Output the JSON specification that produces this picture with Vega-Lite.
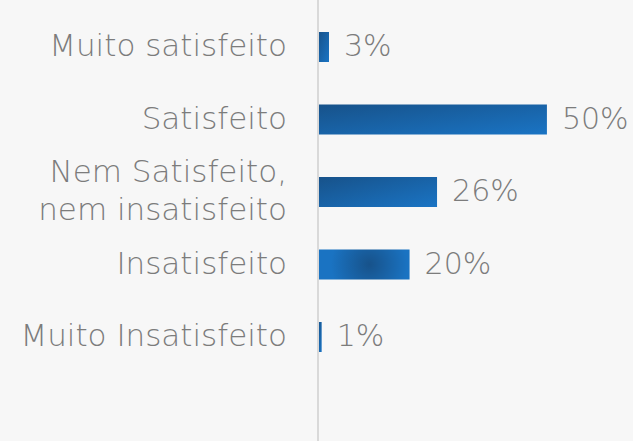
{
  "$schema": "https://vega.github.io/schema/vega-lite/v6.json",
  "autosize": "none",
  "padding": {"left": 318, "top": 0, "right": 0, "bottom": 0},
  "width": 315,
  "height": 441,
  "background": "#f7f7f7",
  "config": {"view": {"stroke": null}},
  "data": {"values": [
    {"cat": "Muito satisfeito\u00a0", "value": 2.4, "label": "3%"},
    {"cat": "Satisfeito", "value": 50, "label": "50%"},
    {"cat": "Nem Satisfeito,\nnem insatisfeito", "value": 26, "label": "26%"},
    {"cat": "Insatisfeito", "value": 20, "label": "20%"},
    {"cat": "Muito Insatisfeito", "value": 0.8, "label": "1%"}
  ]},
  "encoding": {
    "y": {"field": "cat", "type": "nominal", "sort": null, "axis": null,
          "scale": {"range": [10.75, 373.25], "paddingInner": 0.586, "paddingOuter": 0.293}}
  },
  "layer": [
    {
      "mark": {"type": "bar", "cornerRadius": 0},
      "encoding": {
        "x": {"field": "value", "type": "quantitative", "axis": null, "scale": {"domain": [0, 68.8], "nice": false}},
        "fill": {
          "condition": {"test": "datum.cat === 'Insatisfeito'", "value": {"gradient": "radial", "x1": 0.56, "y1": 0.5, "x2": 0.56, "y2": 0.5, "r1": 0, "r2": 0.42, "stops": [{"offset": 0, "color": "#17528a"}, {"offset": 1, "color": "#1a73c2"}]}},
          "value": {"gradient": "linear", "x1": 0, "y1": 0, "x2": 1, "y2": 1, "stops": [{"offset": 0, "color": "#17528a"}, {"offset": 1, "color": "#1a74c4"}]}
        }
      }
    },
    {
      "mark": {"type": "rule", "color": "#d9d9d9", "strokeWidth": 2},
      "encoding": {"x": {"datum": 0, "type": "quantitative"}, "y": null}
    },
    {
      "mark": {"type": "text", "align": "left", "baseline": "middle", "dx": 15, "font": "DejaVu Sans", "fontWeight": 200, "fontSize": 30, "color": "#7c7c7c"},
      "encoding": {
        "x": {"field": "value", "type": "quantitative"},
        "text": {"field": "label"}
      }
    },
    {
      "transform": [{"filter": "indexof(datum.cat, '\\n') < 0"}],
      "mark": {"type": "text", "align": "right", "baseline": "middle", "dx": -31, "font": "DejaVu Sans", "fontWeight": 200, "fontSize": 31, "color": "#7c7c7c"},
      "encoding": {
        "x": {"datum": 0, "type": "quantitative"},
        "text": {"field": "cat"}
      }
    },
    {
      "transform": [{"filter": "indexof(datum.cat, '\\n') >= 0"}],
      "mark": {"type": "text", "align": "right", "baseline": "middle", "dx": -31, "dy": -19, "font": "DejaVu Sans", "fontWeight": 200, "fontSize": 31, "color": "#7c7c7c", "lineBreak": "\n", "lineHeight": 38},
      "encoding": {
        "x": {"datum": 0, "type": "quantitative"},
        "text": {"field": "cat"}
      }
    }
  ]
}
